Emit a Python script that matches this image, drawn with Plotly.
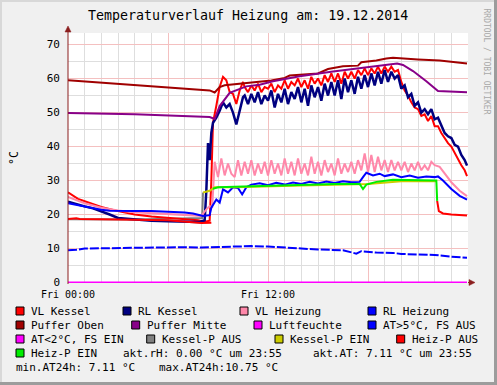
import plotly.graph_objects as go

W, H = 497, 385
L, R, T, B = 68, 468, 33, 283
FONT = "DejaVu Sans Mono"

def px(x):
    return (x - L) / (R - L)

def py(y):
    return (B - y) / (B - T)

# ---------------- data (hours since Fri 00:00, °C) ----------------
t_vlk = [0, 0.3, 0.6, 1.0, 1.5, 2.0, 3.0, 4.0, 5.0, 6.0, 7.0, 7.8, 8.2, 8.5, 8.6, 8.7, 8.9, 9.1, 9.3, 9.5, 9.7, 9.9, 10.1, 10.3, 10.5]
v_vlk = [26.5, 25.5, 24.6, 23.9, 23.0, 22.2, 21.0, 20.0, 19.4, 19.0, 18.6, 18.3, 17.9, 18.2, 30.0, 47.0, 52.0, 57.5, 60.5, 59.5, 56.0, 55.5, 52.5, 56.5, 59.0]
v_vlk_plateau = [57.5, 56.0, 58.0, 56.5, 58.5, 56.0, 57.5, 57.0, 58.5, 56.0, 58.0, 57.0, 59.5, 57.0, 59.0, 58.0,
                 60.0, 57.5, 59.5, 57.0, 60.5, 58.5, 60.0, 58.0, 61.0, 59.0, 61.5, 59.0, 61.5, 58.5, 62.0, 60.0,
                 62.0, 60.0, 62.5, 61.0, 63.0, 61.0, 63.0, 61.5, 63.5, 61.5, 63.5, 62.0, 63.5, 62.0, 62.5]
t_vlk_end = [20.0, 20.2, 20.4, 20.6, 20.8, 21.0, 21.2, 21.4, 21.6, 21.8, 22.0, 22.2, 22.4, 22.6, 22.8, 23.0, 23.2, 23.4, 23.6, 23.8, 23.94]
v_vlk_end = [59.0, 56.5, 55.0, 53.0, 51.5, 51.0, 49.0, 49.5, 47.5, 49.0, 46.0, 46.0, 44.0, 42.5, 41.0, 40.0, 38.0, 36.5, 34.5, 33.0, 31.3]

t_rlk = [0, 0.5, 1.0, 1.5, 2.0, 2.5, 3.0, 4.0, 5.0, 6.0, 7.0, 7.9, 8.2, 8.3, 8.4, 8.5, 8.6, 8.7, 8.9, 9.1, 9.3, 9.5, 9.7, 9.9, 10.1, 10.3, 10.5]
v_rlk = [23.8, 23.0, 22.4, 21.8, 21.0, 20.0, 19.0, 18.5, 18.2, 18.0, 17.9, 17.8, 18.3, 27.0, 41.0, 36.0, 44.0, 47.0, 48.5, 50.5, 53.0, 51.5, 52.5, 50.0, 46.5, 51.0, 54.5]
v_rlk_plateau = [55.0, 52.5, 55.5, 53.0, 56.0, 52.5, 55.0, 53.5, 56.5, 51.5, 55.5, 53.0, 57.0, 52.5, 56.0, 54.0,
                 57.5, 53.0, 57.0, 52.0, 58.0, 54.5, 57.5, 53.5, 58.5, 55.0, 59.0, 55.0, 59.5, 54.0, 60.0, 56.0,
                 59.5, 55.5, 60.5, 57.0, 61.0, 57.5, 61.5, 58.0, 62.0, 58.5, 62.5, 59.0, 62.0, 60.0, 61.0]
t_rlk_end = [20.0, 20.2, 20.4, 20.6, 20.8, 21.0, 21.2, 21.4, 21.6, 21.8, 22.0, 22.2, 22.4, 22.6, 22.8, 23.0, 23.2, 23.4, 23.6, 23.8, 23.94]
v_rlk_end = [57.0, 58.0, 54.5, 55.5, 52.0, 53.0, 50.0, 51.0, 49.5, 51.0, 48.0, 48.5, 46.0, 44.0, 43.0, 42.5, 40.5, 40.0, 37.5, 36.0, 34.4]
plateau_start, plateau_step = 10.6, 0.2

t_vlh = [0, 0.5, 1.0, 2.0, 3.0, 4.0, 5.0, 6.0, 7.0, 8.0, 8.3, 8.5, 8.65]
v_vlh = [25.2, 24.2, 23.3, 22.0, 21.2, 20.7, 20.4, 20.1, 19.9, 19.6, 21.5, 22.5, 22.0]
v_vlh_osc = [35.5, 31.0, 36.5, 31.5, 35.0, 32.0, 31.0, 36.0, 31.5, 35.5, 32.0, 36.0, 31.5, 35.0, 32.0, 35.5,
             31.5, 36.0, 32.0, 35.0, 31.5, 36.5, 32.0, 35.5, 31.5, 36.5, 32.0, 35.0, 31.5, 37.0, 32.0, 35.5,
             31.5, 36.0, 32.5, 35.0, 31.5, 36.5, 32.0, 35.0, 32.5, 35.5, 32.0, 36.0, 33.0, 38.0, 32.5, 37.5,
             32.5, 37.0, 33.0, 36.0, 32.5, 36.0, 33.0, 35.5, 33.0, 35.5, 32.5, 35.0, 33.0, 35.5, 33.0, 34.5,
             33.0, 35.5, 34.5]
osc_start, osc_step = 8.8, 0.2
t_vlh_end = [22.3, 22.6, 23.0, 23.5, 23.94]
v_vlh_end = [34.0, 32.0, 29.5, 27.0, 25.4]

t_rlh = [0, 0.5, 1.0, 1.5, 2.0, 2.5, 3.0, 4.0, 5.0, 6.0, 7.0, 7.5, 8.1, 8.5, 8.6, 8.9, 9.1, 9.3, 9.6, 9.9, 10.2, 10.45,
         10.7, 11.0, 11.5, 12.0, 12.5, 13.0, 13.5, 14.0, 14.5, 15.0, 15.5, 16.0, 16.5, 17.0, 17.5, 17.7, 17.9,
         18.3, 18.7, 19.0, 19.5, 20.0, 20.5, 21.0, 21.5, 22.0, 22.2, 22.5, 23.0, 23.5, 23.94]
v_rlh = [23.3, 22.8, 22.2, 21.8, 21.4, 21.1, 21.0, 21.0, 21.0, 20.9, 20.6, 20.3, 19.6, 19.8, 22.0, 24.4, 23.5, 27.4, 26.5, 28.0, 27.8, 25.9,
         28.0, 28.8, 29.2, 28.6, 29.3, 28.8, 29.4, 29.0, 29.6, 29.1, 29.7, 29.3, 29.8, 29.5, 29.6, 31.0, 32.3,
         31.5, 32.0, 31.3, 31.8, 31.0, 31.5, 30.8, 31.2, 31.0, 31.2, 30.0, 27.5, 25.5, 24.4]

t_po = [0, 3.0, 6.0, 8.5, 8.8, 9.1, 9.4, 10.3, 12.2, 13.0, 13.3, 15.0, 15.6, 16.5, 17.4, 17.6, 18.5, 19.1, 19.5, 21.0, 22.3, 23.94]
v_po = [59.5, 58.4, 57.3, 56.5, 55.9, 57.5, 58.0, 58.4, 59.4, 60.2, 60.9, 61.5, 62.8, 63.6, 63.8, 64.8, 65.3, 65.9, 66.1, 65.6, 65.3, 64.4]

t_pm = [0, 4.0, 8.5, 8.8, 9.1, 9.7, 10.7, 11.5, 12.3, 13.9, 15.9, 17.7, 19.5, 19.75, 20.1, 20.7, 21.5, 22.2, 23.94]
v_pm = [49.9, 49.5, 48.7, 48.1, 51.9, 55.8, 57.7, 58.2, 59.2, 60.7, 62.1, 63.1, 64.1, 64.4, 64.0, 62.2, 59.2, 56.3, 56.0]

t_rh = [0, 23.94]
v_rh = [0.0, 0.0]

t_at = [0, 0.5, 1.0, 2.0, 3.0, 4.0, 5.0, 6.0, 7.0, 8.0, 9.0, 10.0, 11.0, 12.0, 13.0, 14.0, 15.0, 16.5, 17.3, 17.6, 18.5, 19.5, 20.0, 21.0, 22.0, 23.0, 23.94]
v_at = [9.5, 9.6, 10.0, 10.1, 10.0, 10.2, 10.3, 10.3, 10.4, 10.3, 10.5, 10.6, 10.7, 10.6, 10.4, 10.0, 9.7, 9.5, 8.5, 9.2, 8.8, 8.7, 8.4, 8.3, 8.1, 7.6, 7.3]

t_kp_aus = [0, 4.0, 8.05, 8.1]
v_kp_aus = [18.6, 18.5, 19.0, 26.5]
t_kp_ein = [8.1, 8.5, 8.8, 10.0, 14.0, 17.5, 18.0, 20.0, 22.1]
v_kp_ein = [26.5, 27.0, 28.0, 28.0, 28.5, 28.8, 29.0, 29.8, 29.8]

t_hp_aus1 = [0, 0.5, 0.7, 1.5, 3.0, 6.0, 7.5, 8.0, 8.6]
v_hp_aus1 = [18.7, 18.9, 18.7, 18.6, 18.5, 18.3, 17.8, 17.5, 17.6]
t_hp_aus2 = [22.15, 22.25, 22.5, 23.0, 23.94]
v_hp_aus2 = [24.0, 21.0, 20.3, 20.0, 19.7]
t_hp_ein = [8.7, 9.0, 10.0, 12.0, 14.0, 16.0, 17.5, 17.7, 17.9, 18.5, 19.5, 21.0, 22.1, 22.15]
v_hp_ein = [27.6, 28.0, 28.2, 28.5, 28.7, 29.0, 29.0, 27.5, 28.8, 29.6, 30.2, 30.2, 30.0, 24.0]

x_tickvals = [0, 6, 12, 18, 24]
x_ticktext = ["Fri 00:00", "", "Fri 12:00", "", ""]
y_tickvals = [0, 10, 20, 30, 40, 50, 60, 70]

# ---------------- assemble ----------------
def regular(start, step, n):
    return [round(start + step * i, 3) for i in range(n)]

vlk_t = t_vlk + regular(plateau_start, plateau_step, len(v_vlk_plateau)) + t_vlk_end
vlk_v = v_vlk + v_vlk_plateau + v_vlk_end
rlk_t = t_rlk + regular(plateau_start, plateau_step, len(v_rlk_plateau)) + t_rlk_end
rlk_v = v_rlk + v_rlk_plateau + v_rlk_end
vlh_t = t_vlh + regular(osc_start, osc_step, len(v_vlh_osc)) + t_vlh_end
vlh_v = v_vlh + v_vlh_osc + v_vlh_end

C = dict(vlk="#FF0000", rlk="#000080", vlh="#FF88AA", rlh="#0000FF", po="#A00000", pm="#880088",
         rh="#FF00FF", at="#0000FF", at2="#FF00FF", kpa="#808080", kpe="#CCCC00", hpa="#FF0000", hpe="#00EE00")

fig = go.Figure()

def line(t, v, color, width=2, dash="solid"):
    fig.add_trace(go.Scatter(x=t, y=v, mode="lines", line=dict(color=color, width=width, dash=dash),
                             showlegend=False, hoverinfo="skip"))

line(t_kp_aus, v_kp_aus, C["kpa"])
line(vlk_t, vlk_v, C["vlk"])
line(rlk_t, rlk_v, C["rlk"], 2.5)
line(vlh_t, vlh_v, C["vlh"])
line(t_rlh, v_rlh, C["rlh"])
line(t_po, v_po, C["po"])
line(t_pm, v_pm, C["pm"])
line(t_rh, v_rh, C["rh"])
line(t_at, v_at, C["at"], 2, "9px,2px")
line(t_kp_ein, v_kp_ein, C["kpe"])
line(t_hp_aus1, v_hp_aus1, C["hpa"])
line(t_hp_aus2, v_hp_aus2, C["hpa"])
line(t_hp_ein, v_hp_ein, C["hpe"])

shapes = []
ann = []

# frame
shapes.append(dict(type="rect", xref="paper", yref="paper", x0=px(0), x1=px(W), y0=py(0), y1=py(2),
                   fillcolor="#D8D8D8", line=dict(width=0), layer="below"))
shapes.append(dict(type="rect", xref="paper", yref="paper", x0=px(0), x1=px(2), y0=py(0), y1=py(H),
                   fillcolor="#D8D8D8", line=dict(width=0), layer="below"))
shapes.append(dict(type="rect", xref="paper", yref="paper", x0=px(W - 3), x1=px(W), y0=py(0), y1=py(H),
                   fillcolor="#9C9C9C", line=dict(width=0)))
shapes.append(dict(type="rect", xref="paper", yref="paper", x0=px(0), x1=px(W), y0=py(H - 3), y1=py(H),
                   fillcolor="#9C9C9C", line=dict(width=0)))

# axes with arrows
AX = "#8B1E1E"
shapes.append(dict(type="line", xref="paper", yref="paper", x0=px(L), x1=px(L), y0=py(B + 1), y1=py(30),
                   line=dict(color=AX, width=1)))
shapes.append(dict(type="path", xref="paper", yref="paper",
                   path=f"M {px(L-3)},{py(32)} L {px(L+3)},{py(32)} L {px(L)},{py(26)} Z",
                   fillcolor=AX, line=dict(color=AX, width=0.5)))
shapes.append(dict(type="line", xref="paper", yref="paper", x0=px(R), x1=px(471), y0=py(B - 0.5), y1=py(B - 0.5),
                   line=dict(color=AX, width=1)))
shapes.append(dict(type="path", xref="paper", yref="paper",
                   path=f"M {px(469)},{py(B-3.5)} L {px(469)},{py(B+2.5)} L {px(475)},{py(B-0.5)} Z",
                   fillcolor=AX, line=dict(color=AX, width=0.5)))

# title, unit, watermark
ann.append(dict(text="Temperaturverlauf Heizung am: 19.12.2014", x=px(248), y=py(16), xref="paper", yref="paper",
                showarrow=False, xanchor="center", yanchor="middle", font=dict(family=FONT, size=13.3, color="#000")))
ann.append(dict(text="°C", x=px(14), y=py(158), xref="paper", yref="paper", textangle=-90,
                showarrow=False, xanchor="center", yanchor="middle", font=dict(family=FONT, size=11.5, color="#000")))
ann.append(dict(text="RRDTOOL / TOBI OETIKER", x=px(486.5), y=py(62), xref="paper", yref="paper", textangle=90,
                showarrow=False, xanchor="center", yanchor="middle", font=dict(family=FONT, size=8, color="#A8A8A8")))

# legend
legend_rows = [
    (311, [(16, "vlk", "VL Kessel"), (123, "rlk", "RL Kessel"), (240, "vlh", "VL Heizung"), (368, "rlh", "RL Heizung")]),
    (325, [(16, "po", "Puffer Oben"), (131.7, "pm", "Puffer Mitte"), (254, "rh", "Luftfeuchte"), (368, "at", "AT>5°C, FS AUS")]),
    (339, [(16, "at2", "AT<2°C, FS EIN"), (146.7, "kpa", "Kessel-P AUS"), (275, "kpe", "Kessel-P EIN"), (396.7, "hpa", "Heiz-P AUS")]),
    (353, [(16, "hpe", "Heiz-P EIN")]),
]
LF = 11
for yc, items in legend_rows:
    for xs, key, label in items:
        shapes.append(dict(type="rect", xref="paper", yref="paper", x0=px(xs), x1=px(xs + 8),
                           y0=py(yc + 4), y1=py(yc - 4), fillcolor=C[key], line=dict(color="#000", width=1)))
        ann.append(dict(text=label, x=px(xs + 13), y=py(yc), xref="paper", yref="paper", showarrow=False,
                        xanchor="left", yanchor="middle", font=dict(family=FONT, size=LF, color="#000")))

extra_text = [
    (121, 353, "akt.rH: 0.00 °C um 23:55"),
    (311, 353, "akt.AT: 7.11 °C um 23:55"),
    (14, 367, "min.AT24h: 7.11 °C"),
    (156.5, 367, "max.AT24h:10.75 °C"),
]
for xs, yc, txt in extra_text:
    ann.append(dict(text=txt, x=px(xs), y=py(yc), xref="paper", yref="paper", showarrow=False,
                    xanchor="left", yanchor="middle", font=dict(family=FONT, size=LF, color="#000")))

fig.update_layout(
    width=W, height=H,
    margin=dict(l=L, r=W - R, t=T, b=H - B, pad=0),
    paper_bgcolor="#F0F0F0", plot_bgcolor="#FFFFFF",
    shapes=shapes, annotations=ann, showlegend=False,
    xaxis=dict(range=[0, 24], tickmode="array", tickvals=x_tickvals, ticktext=x_ticktext,
               showgrid=True, gridcolor="#F4C0C0", gridwidth=1, zeroline=False, showline=False,
               ticks="", ticklabelstandoff=4, tickfont=dict(family=FONT, size=10, color="#000"),
               minor=dict(dtick=1, tick0=0, showgrid=True, gridcolor="#DEDEDE", gridwidth=1),
               fixedrange=True),
    yaxis=dict(range=[-0.15, 73.4], tickmode="array", tickvals=y_tickvals,
               showgrid=True, gridcolor="#F4C0C0", gridwidth=1, zeroline=False, showline=False,
               ticks="", ticklabelstandoff=7, tickfont=dict(family=FONT, size=11, color="#000"),
               minor=dict(dtick=5, tick0=0, showgrid=True, gridcolor="#DEDEDE", gridwidth=1),
               fixedrange=True),
)

fig.write_html("out.html", config={"displayModeBar": False},
               post_script="document.body.style.margin='0';document.body.style.padding='0';")
